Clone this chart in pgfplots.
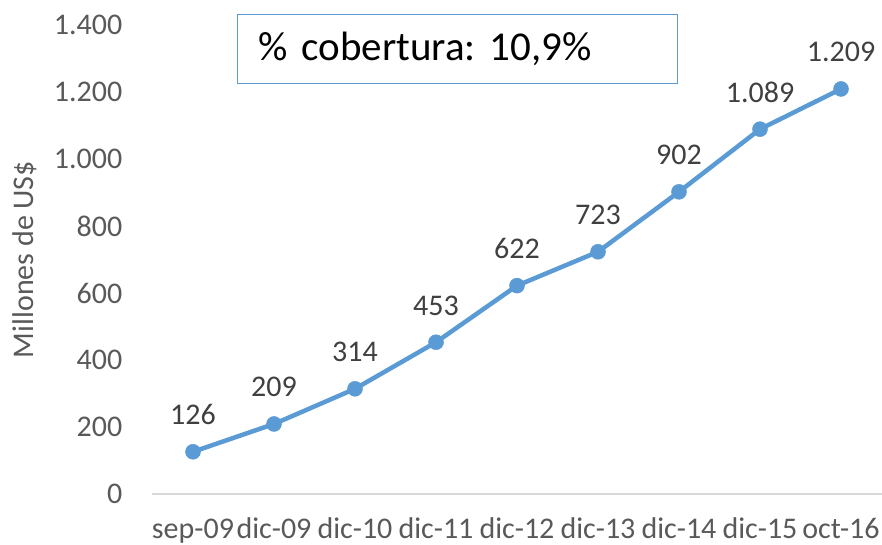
\documentclass[border=0pt]{standalone}
\usepackage{fontspec}
\setmainfont{Carlito}
\usepackage{pgfplots}
\pgfplotsset{compat=1.18}
\definecolor{lineblue}{HTML}{5B9BD5}
\definecolor{ticktxt}{HTML}{595959}
\definecolor{lbltxt}{HTML}{404040}
\definecolor{baseln}{HTML}{D9D9D9}
\begin{document}
\frenchspacing
\begin{tikzpicture}
\begin{axis}[
  name=ax,
  scale only axis, width=729pt, height=469pt,
  xmin=-0.5, xmax=8.5, ymin=0, ymax=1400,
  clip=false,
  axis line style={draw=none},
  major tick length=0pt,
  xtick={0,1,2,3,4,5,6,7,8},
  xticklabels={sep-09,dic-09,dic-10,dic-11,dic-12,dic-13,dic-14,dic-15,oct-16},
  ytick={0,200,400,600,800,1000,1200,1400},
  /pgf/number format/.cd, 1000 sep={.}, assume math mode=true, /pgfplots/.cd,
  yticklabel style={font=\fontsize{30}{32}\selectfont, color=ticktxt, anchor=east, inner sep=0pt, xshift=-30pt},
  xticklabel style={font=\fontsize{30}{32}\selectfont, color=ticktxt, anchor=base, inner sep=0pt, yshift=-45pt},
  ylabel={Millones de US\$},
  ylabel style={font=\fontsize{30}{32}\selectfont, color=ticktxt, at={(rel axis cs:0,0.5)}, anchor=center, yshift=127.5pt, inner sep=0pt},
  nodes near coords,
  every node near coord/.append style={font=\fontsize{30}{32}\selectfont, color=lbltxt, anchor=base, inner sep=0pt, yshift=27pt},
]
\coordinate (bl) at (rel axis cs:0,0);
\coordinate (tr) at (rel axis cs:1,1);
\draw[baseln, line width=1.5pt] (axis cs:-0.5,0) -- (axis cs:8.5,0);
\addplot[color=lineblue, line width=4.5pt, mark=*, mark size=7.5pt, mark options={fill=lineblue, draw=lineblue, line width=0.5pt}]
  coordinates {(0,126) (1,209) (2,314) (3,453) (4,622) (5,723) (6,902) (7,1089) (8,1209)};
\node[draw=lineblue, line width=1.2pt, anchor=north west, minimum width=440pt, minimum height=69pt,
      inner xsep=21pt, text width=398pt, align=left, font=\fontsize{41}{45}\selectfont, text=black]
  at (rel axis cs:0.116,1.0235) {\% cobertura: 10,9\%};
\end{axis}
\pgfresetboundingbox
\path[use as bounding box] ([xshift=-152.5pt,yshift=-51pt]bl) rectangle ([xshift=0.5pt,yshift=25pt]tr);
\end{tikzpicture}
\end{document}
